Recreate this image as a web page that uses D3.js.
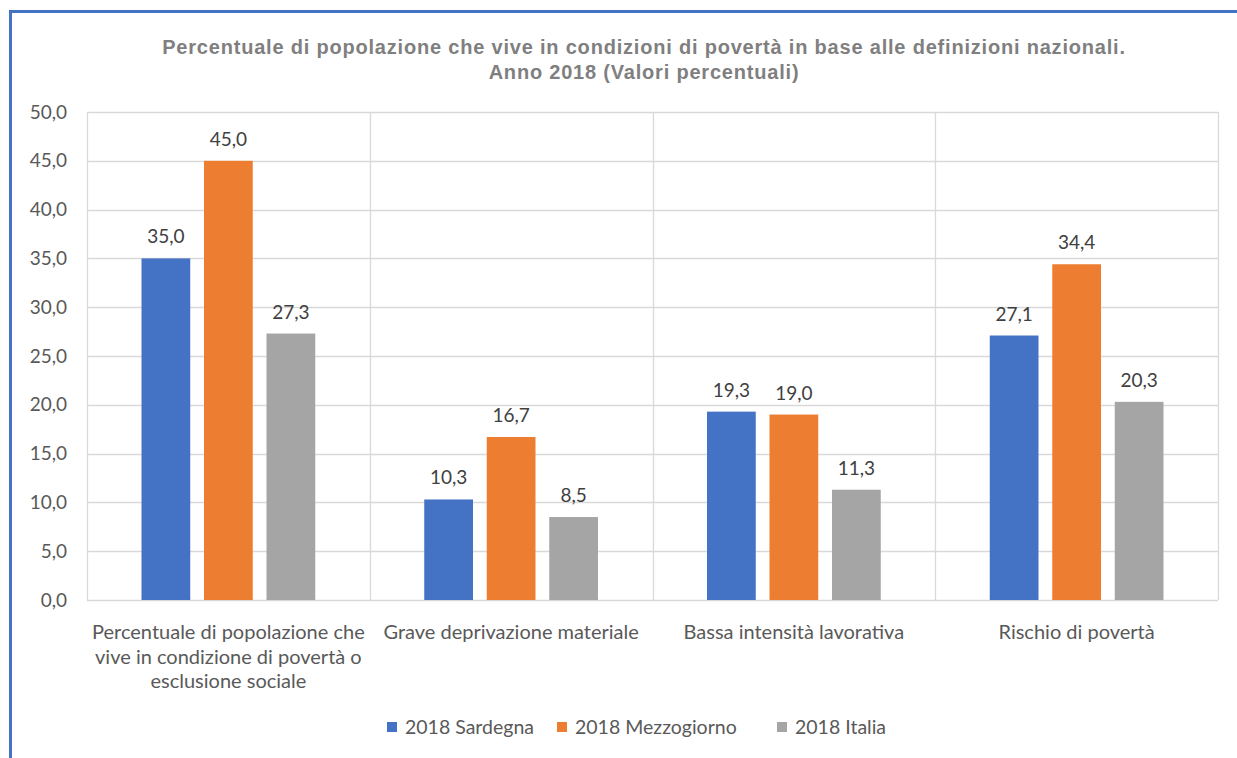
<!DOCTYPE html>
<html><head><meta charset="utf-8">
<script src="https://cdn.jsdelivr.net/npm/d3@7"></script>
<style>body{margin:0;background:#fff;}svg{display:block;}</style>
</head><body>
<script>
const categories = [
  ["Percentuale di popolazione che", "vive in condizione di povertà o", "esclusione sociale"],
  ["Grave deprivazione materiale"],
  ["Bassa intensità lavorativa"],
  ["Rischio di povertà"]
];
const seriesNames = ["2018 Sardegna", "2018 Mezzogiorno", "2018 Italia"];
const sardegna = [35.0, 10.3, 19.3, 27.1];
const mezzogiorno = [45.0, 16.7, 19.0, 34.4];
const italia = [27.3, 8.5, 11.3, 20.3];
const yTicks = [0, 5, 10, 15, 20, 25, 30, 35, 40, 45, 50];
const colors = ["#4472C4", "#ED7D31", "#A5A5A5"];
const titleLines = ["Percentuale di popolazione che vive in condizioni di povertà in base alle definizioni nazionali.", "Anno 2018 (Valori percentuali)"];

const W = 1237, H = 758;
const FONT = "Lato, 'Open Sans', sans-serif";
const svg = d3.select("body").append("svg").attr("width", W).attr("height", H);
svg.append("rect").attr("width", W).attr("height", H).attr("fill", "#fff");

// frame
svg.append("line").attr("x1", 10).attr("x2", W).attr("y1", 11.5).attr("y2", 11.5).attr("stroke", "#4472C4").attr("stroke-width", 3);
svg.append("line").attr("x1", 10.5).attr("x2", 10.5).attr("y1", 10).attr("y2", H).attr("stroke", "#4472C4").attr("stroke-width", 3);

const m = {l: 87, r: 1218, t: 112, b: 600};
const series = [sardegna, mezzogiorno, italia];
const idx = d3.range(categories.length);
const x0 = d3.scaleBand().domain(idx).range([m.l, m.r]).padding(0);
const cw = x0.bandwidth();
const x1 = d3.scaleBand().domain(d3.range(3)).range([cw/2 - 93.75, cw/2 + 93.75]).paddingInner(0.22).paddingOuter(0.11);
const y = d3.scaleLinear().domain([0, 50]).range([m.b, m.t]);

// grid
svg.append("g").selectAll("line").data(yTicks).join("line")
  .attr("x1", m.l).attr("x2", m.r).attr("y1", d => Math.round(y(d)) + 0.5).attr("y2", d => Math.round(y(d)) + 0.5)
  .attr("stroke", "#d9d9d9").attr("stroke-width", 1.3);
const vx = idx.map(i => x0(i)).concat([m.r]);
svg.append("g").selectAll("line").data(vx).join("line")
  .attr("x1", d => Math.round(d) + 0.5).attr("x2", d => Math.round(d) + 0.5).attr("y1", m.t).attr("y2", m.b)
  .attr("stroke", "#d9d9d9").attr("stroke-width", 1.3);

// y axis labels
const yAxis = d3.axisLeft(y).tickValues(yTicks).tickSize(0).tickPadding(20)
  .tickFormat(d => d3.format(".1f")(d).replace(".", ","));
const ya = svg.append("g").attr("transform", `translate(${m.l},0)`).call(yAxis);
ya.select(".domain").remove();
ya.selectAll("text").attr("font-family", FONT).attr("font-size", 19).attr("fill", "#595959");

// bars
series.forEach((s, si) => {
  const g = svg.append("g");
  g.selectAll("rect").data(s).join("rect")
    .attr("x", (d, i) => x0(i) + x1(si)).attr("width", x1.bandwidth())
    .attr("y", d => y(d)).attr("height", d => y(0) - y(d)).attr("fill", colors[si]);
  g.selectAll("text").data(s).join("text")
    .attr("x", (d, i) => x0(i) + x1(si) + x1.bandwidth()/2).attr("y", d => y(d) - 15)
    .attr("text-anchor", "middle").attr("font-family", FONT).attr("font-size", 19).attr("fill", "#404040")
    .text(d => d3.format(".1f")(d).replace(".", ","));
});

// category labels
const xa = svg.append("g");
categories.forEach((lines, i) => {
  const t = xa.append("text").attr("x", x0(i) + cw/2).attr("y", 639).attr("text-anchor", "middle")
    .attr("font-family", FONT).attr("font-size", 20).attr("fill", "#595959");
  lines.forEach((ln, j) => t.append("tspan").attr("x", x0(i) + cw/2).attr("dy", j ? 24.5 : 0).text(ln));
});

// title
svg.append("g").selectAll("text").data(titleLines).join("text")
  .attr("x", 644).attr("y", (d, i) => 54 + i * 25).attr("text-anchor", "middle")
  .attr("font-family", "'Liberation Sans', Arial, sans-serif").attr("font-weight", "bold").attr("font-size", 20)
  .attr("letter-spacing", 0.8).attr("fill", "#7f7f7f")
  .text(d => d);

// legend
const legX = [387, 557, 777];
const lg = svg.append("g");
seriesNames.forEach((n, i) => {
  lg.append("rect").attr("x", legX[i]).attr("y", 722).attr("width", 10).attr("height", 10).attr("fill", colors[i]);
  lg.append("text").attr("x", legX[i] + 18).attr("y", 734).attr("font-family", FONT)
    .attr("font-size", 19.5).attr("fill", "#595959").text(n);
});
</script>
</body></html>
